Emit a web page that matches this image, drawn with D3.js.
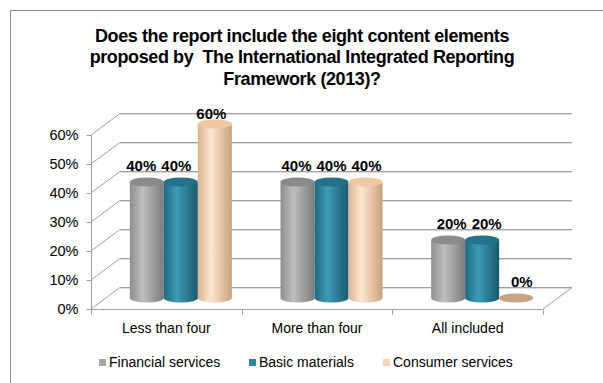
<!DOCTYPE html>
<html>
<head>
<meta charset="utf-8">
<script src="https://cdn.jsdelivr.net/npm/d3@7"></script>
<style>
  html, body { margin: 0; padding: 0; background: #fff; }
  svg { display: block; font-family: Arial, "Liberation Sans", sans-serif; }
  .title tspan { white-space: pre; }
</style>
</head>
<body>
<svg id="chart" width="603" height="383"></svg>
<script>
// Chart data
const titleLines = [
  "Does the report include the eight content elements",
  "proposed by  The International Integrated Reporting",
  "Framework (2013)?"
];
const categories = ["Less than four", "More than four", "All included"];
const seriesNames = ["Financial services", "Basic materials", "Consumer services"];
const financialServices = [0.40, 0.40, 0.20];
const basicMaterials = [0.40, 0.40, 0.20];
const consumerServices = [0.60, 0.40, 0.00];
const yTicks = [0, 0.1, 0.2, 0.3, 0.4, 0.5, 0.6];

const seriesValues = [financialServices, basicMaterials, consumerServices];

// Cylinder shading per series: edges, highlight, top cap, flat (zero) cap, legend key
const palette = [
  { edgeL: "#8e8e8e", hi: "#bebebe", edgeR: "#7c7c7c", top: "#8a8a8a", flat: "#9a9a9a", key: "#a6a6a6" },
  { edgeL: "#1d6a80", hi: "#3d9bb6", edgeR: "#195a6c", top: "#24718a", flat: "#2b7c93", key: "#31859c" },
  { edgeL: "#d9b391", hi: "#ffe6d0", edgeR: "#c9a07e", top: "#f0c7a3", flat: "#c9a283", key: "#fcd5b5" }
];

const svg = d3.select("#chart");
const defs = svg.append("defs");

palette.forEach((p, i) => {
  const g = defs.append("linearGradient").attr("id", "cyl" + i)
    .attr("x1", "0%").attr("x2", "100%").attr("y1", "0%").attr("y2", "0%");
  g.append("stop").attr("offset", "0%").attr("stop-color", p.edgeL);
  g.append("stop").attr("offset", "38%").attr("stop-color", p.hi);
  g.append("stop").attr("offset", "100%").attr("stop-color", p.edgeR);
});

// Outer frame
svg.append("path")
  .attr("d", "M10.5,383 L10.5,10.5 L603,10.5")
  .attr("fill", "none").attr("stroke", "#8c8c8c").attr("stroke-width", 1);

// Title
const title = svg.append("text")
  .attr("class", "title")
  .attr("text-anchor", "middle")
  .attr("font-weight", "bold")
  .attr("font-size", 18)
  .attr("letter-spacing", -0.4)
  .attr("fill", "#000");
titleLines.forEach((t, i) => {
  title.append("tspan").attr("x", 302).attr("y", 42 + i * 21.3).text(t);
});

// Scales: front plane of the 3D plot
const depthX = 29, depthY = -22;
const x = d3.scaleBand().domain(categories).range([91, 543]).padding(0);
const y = d3.scaleLinear().domain([0, 0.6]).range([309, 135]);
const xs = d3.scaleBand().domain(seriesNames).range([-51, 51]).padding(0);

const gridColor = "#a0a0a0";

// Back wall gridlines and left wall diagonals
const grid = svg.append("g");
yTicks.forEach(t => {
  const yf = y(t), yb = y(t) + depthY;
  grid.append("line")
    .attr("x1", 91 + depthX).attr("x2", 543 + depthX)
    .attr("y1", yb + 1.5).attr("y2", yb + 1.5)
    .attr("stroke", "#dcdcdc").attr("stroke-width", 1);
  grid.append("line")
    .attr("x1", 91 + depthX).attr("x2", 543 + depthX)
    .attr("y1", yb + 0.5).attr("y2", yb + 0.5)
    .attr("stroke", gridColor).attr("stroke-width", 1);
  grid.append("line")
    .attr("x1", 91).attr("y1", yf)
    .attr("x2", 91 + depthX).attr("y2", yb + 0.5)
    .attr("stroke", gridColor).attr("stroke-width", 1);
});

// Floor: right edge diagonal
grid.append("line")
  .attr("x1", 543).attr("y1", y(0))
  .attr("x2", 543 + depthX).attr("y2", y(0) + depthY + 0.5)
  .attr("stroke", gridColor).attr("stroke-width", 1);

// Value axis (front left edge)
const yAxis = d3.axisLeft(y).tickValues(yTicks)
  .tickFormat(d3.format(".0%")).tickSize(5).tickPadding(8);
const yAxisG = svg.append("g").attr("transform", "translate(91.5,0)").call(yAxis);
yAxisG.select(".domain").attr("stroke", gridColor).attr("d", "M0," + y(0.6) + "V" + (y(0) + 0.5));
yAxisG.selectAll(".tick line").attr("stroke", gridColor);
yAxisG.selectAll(".tick text")
  .attr("font-size", 14.5).attr("font-family", "Arial, 'Liberation Sans', sans-serif")
  .attr("fill", "#000");

// Category axis (front floor edge)
const xAxis = d3.axisBottom(x).tickSize(0).tickPadding(14);
const xAxisG = svg.append("g").attr("transform", "translate(0," + (y(0) + 0.5) + ")").call(xAxis);
xAxisG.select(".domain").attr("stroke", gridColor).attr("d", "M91,0H543");
xAxisG.selectAll(".tick text")
  .attr("font-size", 14).attr("font-family", "Arial, 'Liberation Sans', sans-serif")
  .attr("fill", "#000");
// Category boundary ticks
const bounds = categories.map(c => x(c)).concat([x(categories[categories.length - 1]) + x.bandwidth()]);
xAxisG.selectAll(".bound").data(bounds).join("line")
  .attr("class", "bound")
  .attr("x1", d => Math.round(d) + 0.5).attr("x2", d => Math.round(d) + 0.5)
  .attr("y1", 0).attr("y2", 5)
  .attr("stroke", gridColor);

// Cylinders
const rx = xs.bandwidth() / 2;
const ry = 4.5;
const bars = svg.append("g");
const labels = svg.append("g");
const labelTop = y(0.6) - 16; // labels stay inside the plot area
categories.forEach((cat, ci) => {
  const groupCx = x(cat) + x.bandwidth() / 2 + depthX / 2;
  seriesNames.forEach((s, si) => {
    const v = seriesValues[si][ci];
    const cx = groupCx + xs(s) + rx;
    const yb = y(0) + depthY / 2;
    const yt = y(v) + depthY / 2;
    const p = palette[si];
    if (v > 0) {
      bars.append("path")
        .attr("d", `M${cx - rx},${yt} L${cx - rx},${yb} A${rx},${ry} 0 0 0 ${cx + rx},${yb} L${cx + rx},${yt} Z`)
        .attr("fill", `url(#cyl${si})`);
      bars.append("ellipse")
        .attr("cx", cx).attr("cy", yt).attr("rx", rx).attr("ry", ry)
        .attr("fill", p.top);
    } else {
      bars.append("ellipse")
        .attr("cx", cx).attr("cy", yb).attr("rx", rx).attr("ry", ry)
        .attr("fill", p.flat);
    }
    labels.append("text")
      .attr("x", cx + (cx - 331) * 0.03)
      .attr("y", Math.max(yt - 11, labelTop))
      .attr("text-anchor", "middle")
      .attr("font-size", 15).attr("font-weight", "bold")
      .attr("fill", "#000")
      .text(d3.format(".0%")(v));
  });
});

// Legend
const legendX = [99, 249, 383];
const legend = svg.append("g");
seriesNames.forEach((s, i) => {
  legend.append("rect")
    .attr("x", legendX[i]).attr("y", 359).attr("width", 7).attr("height", 7)
    .attr("fill", palette[i].key);
  legend.append("text")
    .attr("x", legendX[i] + 10).attr("y", 367)
    .attr("font-size", 14).attr("fill", "#000")
    .text(s);
});
</script>
</body>
</html>
